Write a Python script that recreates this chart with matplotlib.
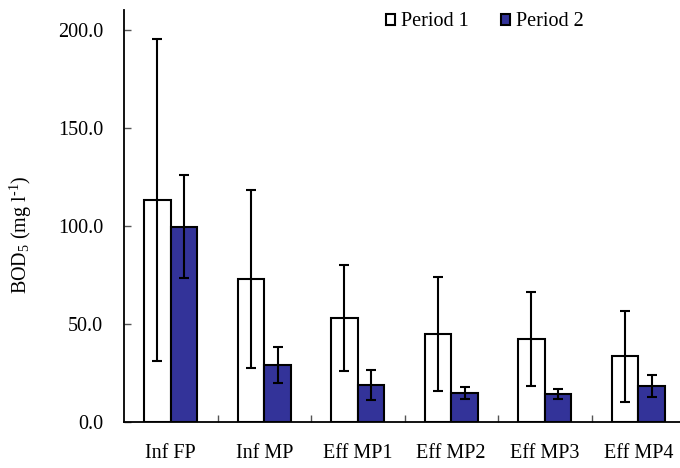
import matplotlib
matplotlib.use("Agg")
import matplotlib.pyplot as plt
import numpy as np
from matplotlib.patches import Patch
from matplotlib.ticker import FormatStrFormatter

plt.rcParams['font.family'] = ['Liberation Serif', 'DejaVu Serif']
plt.rcParams['mathtext.fontset'] = 'custom'
plt.rcParams['mathtext.rm'] = 'Liberation Serif'
plt.rcParams['mathtext.it'] = 'Liberation Serif:italic'

categories = ["Inf FP", "Inf MP", "Eff MP1", "Eff MP2", "Eff MP3", "Eff MP4"]
period1 = [113.0, 72.7, 52.9, 44.9, 42.4, 33.6]
period1_sd = [82.0, 45.3, 26.9, 29.2, 24.0, 23.2]
period2 = [99.6, 29.2, 18.9, 14.8, 14.4, 18.4]
period2_sd = [26.4, 9.2, 7.6, 3.1, 2.5, 5.5]
yticks = [0, 50, 100, 150, 200]

W, H = 680, 468
fig = plt.figure(figsize=(W / 100, H / 100), dpi=100)
ax = fig.add_axes([124 / W, 46 / H, (685 - 124) / W, (422 - 10) / H])

x = np.arange(len(categories))
bw = 0.285
blue = "#333399"
fs = 14.5

ax.bar(x - bw / 2, period1, bw, color="white", edgecolor="black", linewidth=1.5, zorder=2)
ax.bar(x + bw / 2, period2, bw, color=blue, edgecolor="black", linewidth=1.5, zorder=2)
ax.errorbar(x - bw / 2, period1, yerr=period1_sd, fmt="none", ecolor="black",
            elinewidth=1.5, capsize=3.5, capthick=1.5, zorder=3)
ax.errorbar(x + bw / 2, period2, yerr=period2_sd, fmt="none", ecolor="black",
            elinewidth=1.5, capsize=3.5, capthick=1.5, zorder=3)

ax.set_xlim(-0.5, len(categories) - 0.5)
ax.set_ylim(0, 210)
ax.set_yticks(yticks)
ax.yaxis.set_major_formatter(FormatStrFormatter("%.1f"))
ax.set_xticks(x)
ax.set_xticklabels(categories, fontsize=fs)
ax.set_xticks(np.arange(0.5, len(categories) - 1, 1.0), minor=True)
ax.tick_params(axis="x", which="major", length=0, pad=16)
ax.tick_params(axis="x", which="minor", direction="in", length=5, width=1, color="#555555")
ax.tick_params(axis="y", direction="in", length=5, width=1, color="#555555",
               labelsize=fs, pad=15)

for s in ("top", "right"):
    ax.spines[s].set_visible(False)
ax.spines["left"].set_linewidth(1.3)
ax.spines["bottom"].set_linewidth(1.3)

ax.set_ylabel(r"BOD$_{5}$ (mg l$^{\mathrm{‐1}}$)", fontsize=fs)
ax.yaxis.set_label_coords(-0.160, 0.454)

handles = [Patch(facecolor="white", edgecolor="black", linewidth=1.5, label="Period 1"),
           Patch(facecolor=blue, edgecolor="black", linewidth=1.5, label="Period 2")]
fig.legend(handles=handles, loc="center", bbox_to_anchor=(485 / W, 1 - 22 / H), ncol=2,
           frameon=False, fontsize=fs, handlelength=0.45, handleheight=0.45,
           handletextpad=0.3, columnspacing=1.6)

fig.savefig("out.png", dpi=100)
